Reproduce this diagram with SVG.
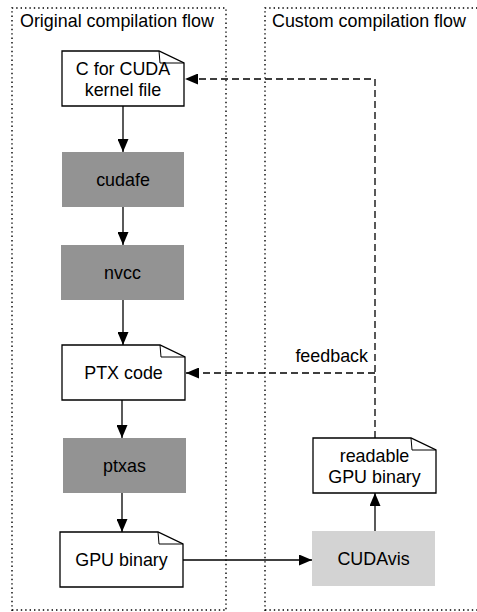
<svg xmlns="http://www.w3.org/2000/svg" width="477" height="612" viewBox="0 0 477 612">
<defs>
<style>
text{font-family:"Liberation Sans",Arial,sans-serif;font-size:17.9px;fill:#000}
.c{text-anchor:middle}
.frame{fill:none;stroke:#000;stroke-width:1.4;stroke-dasharray:1.4 3}
.doc{fill:#fff;stroke:#000;stroke-width:1.3}
.fold{fill:none;stroke:#000;stroke-width:1}
.tool{fill:#939393}
.vis{fill:#d3d3d3}
.edge{fill:none;stroke:#000;stroke-width:1.3}
.dash{stroke-dasharray:7 4}
</style>
<marker id="ah" viewBox="0 0 13 11" refX="13" refY="5.5" markerWidth="13" markerHeight="11" markerUnits="userSpaceOnUse" orient="auto">
<path d="M0,0 L13,5.5 L0,11 Z" fill="#000"/>
</marker>
</defs>
<g id="frames">
<path class="frame" d="M12,611 L12,8 L226,8 L226,611"/>
<path class="frame" d="M12,610 L226,610"/>
<path class="frame" d="M265,611 L265,8 L477,8"/>
<path class="frame" d="M265,610 L477,610"/>
<text x="20" y="27">Original compilation flow</text>
<text x="272" y="27">Custom compilation flow</text>
</g>
<g id="connectors">
<line class="edge" x1="123" y1="106" x2="123" y2="152" marker-end="url(#ah)"/>
<line class="edge" x1="123" y1="207" x2="123" y2="245" marker-end="url(#ah)"/>
<line class="edge" x1="123" y1="300" x2="123" y2="345" marker-end="url(#ah)"/>
<line class="edge" x1="122" y1="400" x2="122" y2="438" marker-end="url(#ah)"/>
<line class="edge" x1="122" y1="493" x2="122" y2="532" marker-end="url(#ah)"/>
<line class="edge" x1="183" y1="560" x2="312" y2="560" marker-end="url(#ah)"/>
<line class="edge" x1="375" y1="531" x2="375" y2="493" marker-end="url(#ah)"/>
<path class="edge dash" d="M375,438 L375,79 L185,79" marker-end="url(#ah)"/>
<path class="edge dash" d="M375,373 L186,373" marker-end="url(#ah)"/>
<text x="368" y="362" text-anchor="end">feedback</text>
</g>
<g id="kernel">
<path class="doc" d="M62,51 L159,51 L184,63 L184,106 L62,106 Z"/>
<path class="fold" d="M159,51 L160,63 L184,63"/>
<text class="c" x="123" y="74.5">C for CUDA</text>
<text class="c" x="123" y="95.5">kernel file</text>
</g>
<g id="cudafe">
<rect class="tool" x="62" y="152" width="122" height="55"/>
<text class="c" x="123" y="185.8">cudafe</text>
</g>
<g id="nvcc">
<rect class="tool" x="61" y="245" width="123" height="55"/>
<text class="c" x="122.5" y="278.8">nvcc</text>
</g>
<g id="ptx">
<path class="doc" d="M62,345 L160,345 L185,357 L185,400 L62,400 Z"/>
<path class="fold" d="M160,345 L161,357 L185,357"/>
<text class="c" x="123.5" y="378.8">PTX code</text>
</g>
<g id="ptxas">
<rect class="tool" x="63" y="438" width="123" height="55"/>
<text class="c" x="124.5" y="471.8">ptxas</text>
</g>
<g id="gpubinary">
<path class="doc" d="M60,532 L158,532 L183,544 L183,587 L60,587 Z"/>
<path class="fold" d="M158,532 L159,544 L183,544"/>
<text class="c" x="121.5" y="565.8">GPU binary</text>
</g>
<g id="cudavis">
<rect class="vis" x="312" y="531" width="123" height="55"/>
<text class="c" x="373.5" y="564.8">CUDAvis</text>
</g>
<g id="readable">
<path class="doc" d="M313,438 L411,438 L436,450 L436,493 L313,493 Z"/>
<path class="fold" d="M411,438 L412,450 L436,450"/>
<text class="c" x="374.5" y="461.5">readable</text>
<text class="c" x="374.5" y="482.5">GPU binary</text>
</g>
</svg>
